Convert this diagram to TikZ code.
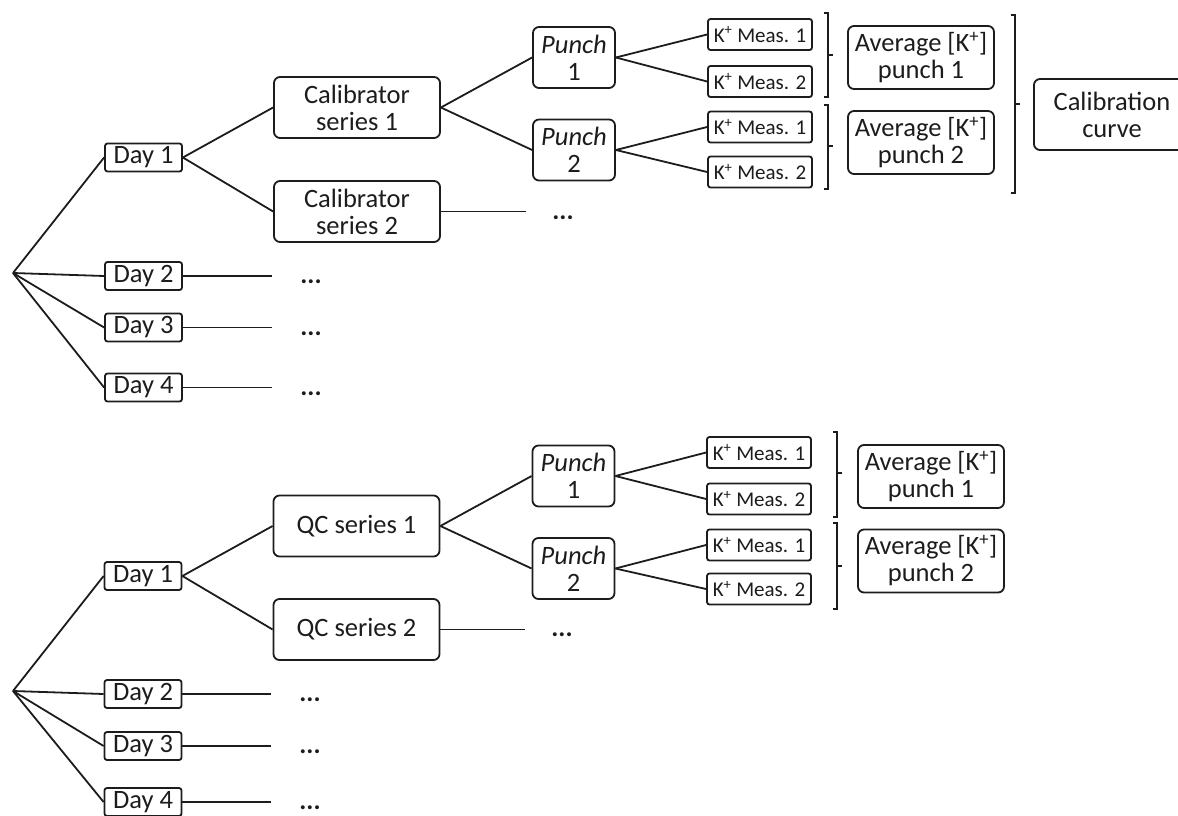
\documentclass[tikz,border=0pt]{standalone}
\usepackage{fontspec}
\setmainfont{Carlito}
\newcommand{\mainsize}{\fontsize{26.5}{27}\selectfont}
\newcommand{\meassize}{\fontsize{21}{22}\selectfont}
\newcommand{\Kp}{K\textsuperscript{+}}
\definecolor{ink}{HTML}{1C1C1C}
\begin{document}
\begin{tikzpicture}[x=1pt,y=-1pt,line width=1.8pt,color=ink,
  box/.style={draw,rounded corners=6pt,align=center,inner sep=0pt,font=\mainsize},
  daybox/.style={draw,rounded corners=2.5pt,inner sep=0pt,minimum width=77pt,minimum height=28pt,font=\mainsize},
  seriesbox/.style={box,minimum width=166pt,minimum height=61pt},
  punchbox/.style={box,minimum width=82pt,minimum height=61pt},
  measbox/.style={draw,rounded corners=2.5pt,inner sep=0pt,minimum width=104pt,minimum height=31pt,font=\meassize},
  avgbox/.style={box,minimum width=146pt,minimum height=63pt},
  curvebox/.style={box,minimum width=156pt,minimum height=71pt},
  more/.style={font=\mainsize\bfseries,anchor=base,inner sep=0pt},
  link/.style={line width=1.8pt},
  brk/.style={line width=1.8pt}]
\useasboundingbox (0,0) rectangle (1178,816);

% ---------- calibrator tree ----------
\coordinate (r) at (13,273);
\node[daybox] (d1) at (143.5,157.5) {Day 1};
\node[daybox] (d2) at (143.5,276) {Day 2};
\node[daybox] (d3) at (143.5,327.5) {Day 3};
\node[daybox] (d4) at (143.5,387.5) {Day 4};
\node[seriesbox] (c1) at (357,107.5) {Calibrator\\series 1};
\node[seriesbox] (c2) at (357,211.5) {Calibrator\\series 2};
\node[punchbox] (p1) at (574,57.5) {\textit{Punch}\\1};
\node[punchbox] (p2) at (574,150) {\textit{Punch}\\2};
\node[measbox] (m11) at (760,34.5) {\Kp{} Meas. 1};
\node[measbox] (m12) at (760,81.5) {\Kp{} Meas. 2};
\node[measbox] (m21) at (760,127) {\Kp{} Meas. 1};
\node[measbox] (m22) at (760,172) {\Kp{} Meas. 2};
\node[avgbox] (a1) at (921,57.5) {Average [\Kp]\\punch 1};
\node[avgbox] (a2) at (921,142.5) {Average [\Kp]\\punch 2};
\node[curvebox] (cc) at (1112,114.5) {Calibration\\curve};

\coordinate (e2) at (272,276);
\coordinate (e3) at (272,327.5);
\coordinate (e4) at (272,387.5);
\coordinate (ec) at (526,211.5);
\node[more] (x2) at (311,283) {...};
\node[more] (x3) at (311,335) {...};
\node[more] (x4) at (311,395) {...};
\node[more] (xc) at (563,219) {...};

\foreach \d in {d1,d2,d3,d4} \draw[link] (r) -- (\d.west);
\draw[link] (d1.east) -- (c1.west);
\draw[link] (d1.east) -- (c2.west);
\draw[link] (d2.east) -- (e2);
\draw[link] (d3.east) -- (e3);
\draw[link] (d4.east) -- (e4);
\draw[link] (c2.east) -- (ec);
\draw[link] (c1.east) -- (p1.west);
\draw[link] (c1.east) -- (p2.west);
\draw[link] (p1.east) -- (m11.west);
\draw[link] (p1.east) -- (m12.west);
\draw[link] (p2.east) -- (m21.west);
\draw[link] (p2.east) -- (m22.west);

% brackets
\draw[brk] (824,13) -- (828,13) -- (828,97) -- (824,97);
\draw[brk] (828,55) -- (833,55);
\draw[brk] (824,105) -- (828,105) -- (828,189) -- (824,189);
\draw[brk] (828,146) -- (833,146);
\draw[brk] (1011,15) -- (1015,15) -- (1015,193) -- (1011,193);
\draw[brk] (1015,104) -- (1020,104);

% ---------- QC tree ----------
\coordinate (R) at (13,691);
\node[daybox] (D1) at (143,576) {Day 1};
\node[daybox] (D2) at (143,694) {Day 2};
\node[daybox] (D3) at (143,746) {Day 3};
\node[daybox] (D4) at (143,802) {Day 4};
\node[seriesbox] (q1) at (356.5,526) {QC series 1};
\node[seriesbox] (q2) at (356.5,629.5) {QC series 2};
\node[punchbox] (P1) at (573.5,476) {\textit{Punch}\\1};
\node[punchbox] (P2) at (573.5,568.5) {\textit{Punch}\\2};
\node[measbox] (M11) at (759,452.5) {\Kp{} Meas. 1};
\node[measbox] (M12) at (759,499) {\Kp{} Meas. 2};
\node[measbox] (M21) at (759,545) {\Kp{} Meas. 1};
\node[measbox] (M22) at (759,589) {\Kp{} Meas. 2};
\node[avgbox] (A1) at (931,476.5) {Average [\Kp]\\punch 1};
\node[avgbox] (A2) at (931,561) {Average [\Kp]\\punch 2};

\coordinate (E2) at (271,694);
\coordinate (E3) at (271,746);
\coordinate (E4) at (271,802);
\coordinate (EQ) at (525,629.5);
\node[more] (X2) at (310,701) {...};
\node[more] (X3) at (310,753) {...};
\node[more] (X4) at (310,809) {...};
\node[more] (XQ) at (562,636) {...};

\foreach \d in {D1,D2,D3,D4} \draw[link] (R) -- (\d.west);
\draw[link] (D1.east) -- (q1.west);
\draw[link] (D1.east) -- (q2.west);
\draw[link] (D2.east) -- (E2);
\draw[link] (D3.east) -- (E3);
\draw[link] (D4.east) -- (E4);
\draw[link] (q2.east) -- (EQ);
\draw[link] (q1.east) -- (P1.west);
\draw[link] (q1.east) -- (P2.west);
\draw[link] (P1.east) -- (M11.west);
\draw[link] (P1.east) -- (M12.west);
\draw[link] (P2.east) -- (M21.west);
\draw[link] (P2.east) -- (M22.west);

\draw[brk] (833,432) -- (837,432) -- (837,517) -- (833,517);
\draw[brk] (837,473) -- (842,473);
\draw[brk] (833,523) -- (837,523) -- (837,609) -- (833,609);
\draw[brk] (837,566) -- (842,566);
\end{tikzpicture}
\end{document}
